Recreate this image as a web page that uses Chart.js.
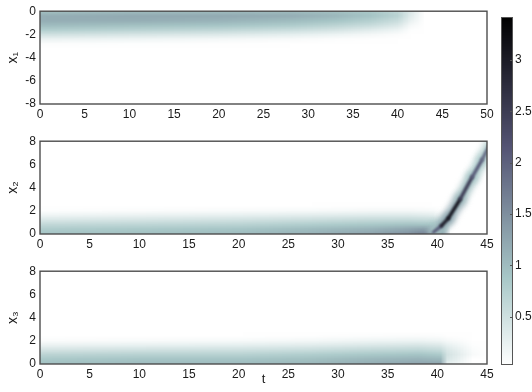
<!DOCTYPE html>
<html>
<head>
<meta charset="utf-8">
<script src="https://cdn.jsdelivr.net/npm/chart.js@4.4.1/dist/chart.umd.min.js"></script>
<style>
  html, body { margin: 0; padding: 0; background: #fff; }
  #wrap { position: relative; width: 532px; height: 392px; overflow: hidden; }
  canvas { position: absolute; left: 0; }
</style>
</head>
<body>
<div id="wrap">
  <canvas id="p1" width="532" height="130" style="top:0px"></canvas>
  <canvas id="p2" width="532" height="130" style="top:130px"></canvas>
  <canvas id="p3" width="532" height="132" style="top:260px"></canvas>
  <canvas id="cb" width="37" height="392" style="left:495px;top:0px"></canvas>
</div>
<script>
// colour scale
const colorMin = 0.03;
const colorMax = 3.42;
const colorTicks = [0.5, 1, 1.5, 2, 2.5, 3];

// panel 1: x1 density over t (rows = x1 levels, columns = t knots)
const x1T = [0, 10, 20, 28, 33, 37, 40, 41.5, 43, 50];
const x1Levels = [0, -0.4, -0.8, -1.2, -1.6, -2.0, -2.4, -2.8, -3.2];
const x1Values = [
  [0.95, 1.00, 1.00, 1.00, 0.95, 0.85, 0.65, 0.35, 0, 0],
  [1.15, 1.20, 1.20, 1.15, 1.05, 0.90, 0.70, 0.30, 0, 0],
  [1.15, 1.15, 1.10, 1.00, 0.90, 0.75, 0.55, 0.22, 0, 0],
  [1.00, 0.95, 0.90, 0.80, 0.68, 0.55, 0.38, 0.12, 0, 0],
  [0.78, 0.72, 0.65, 0.55, 0.45, 0.32, 0.20, 0.05, 0, 0],
  [0.48, 0.42, 0.36, 0.28, 0.20, 0.13, 0.07, 0.01, 0, 0],
  [0.22, 0.18, 0.14, 0.10, 0.06, 0.04, 0.02, 0, 0, 0],
  [0.06, 0.05, 0.04, 0.02, 0.01, 0, 0, 0, 0, 0],
  [0, 0, 0, 0, 0, 0, 0, 0, 0, 0]
];

// panel 2: x2 band + the rising streak
const x2T = [0, 10, 20, 27, 33, 37, 39.5, 40.5, 41.3, 45];
const x2Levels = [0, 0.4, 0.8, 1.2, 1.6, 2.0, 2.4, 2.8];
const x2Values = [
  [0.90, 0.95, 1.00, 1.10, 1.25, 1.45, 1.75, 1.40, 0, 0],
  [0.80, 0.85, 0.90, 1.00, 1.10, 1.25, 1.40, 1.00, 0, 0],
  [0.62, 0.66, 0.70, 0.78, 0.85, 0.92, 0.90, 0.50, 0, 0],
  [0.40, 0.44, 0.48, 0.54, 0.60, 0.62, 0.58, 0.25, 0, 0],
  [0.18, 0.22, 0.26, 0.30, 0.34, 0.35, 0.30, 0.10, 0, 0],
  [0.05, 0.07, 0.09, 0.11, 0.13, 0.13, 0.11, 0.03, 0, 0],
  [0.01, 0.01, 0.02, 0.03, 0.04, 0.04, 0.03, 0, 0, 0],
  [0, 0, 0, 0, 0, 0, 0, 0, 0, 0]
];
const streakT = [39.6, 40.4, 41.1, 42.3, 43.5, 44.5, 45.3];
const streakX = [0.15, 0.7, 1.35, 3.0, 4.9, 6.4, 7.7];
const streakC = [1.6, 2.5, 3.4, 2.7, 2.2, 1.9, 1.8];

// panel 3: x3 band
const x3T = [0, 10, 20, 27, 33, 38, 40.3, 41, 43.5, 45];
const x3Levels = [0, 0.4, 0.8, 1.2, 1.6, 2.0, 2.4, 2.8];
const x3Values = [
  [0.95, 1.00, 1.00, 1.05, 1.15, 1.25, 1.25, 0.25, 0, 0],
  [0.85, 0.90, 0.90, 0.95, 1.05, 1.10, 1.05, 0.40, 0, 0],
  [0.68, 0.72, 0.72, 0.78, 0.85, 0.90, 0.82, 0.45, 0.10, 0],
  [0.45, 0.48, 0.50, 0.55, 0.62, 0.66, 0.58, 0.38, 0.08, 0],
  [0.22, 0.25, 0.28, 0.32, 0.38, 0.42, 0.36, 0.25, 0.05, 0],
  [0.07, 0.09, 0.11, 0.14, 0.18, 0.20, 0.17, 0.12, 0.02, 0],
  [0.01, 0.02, 0.03, 0.04, 0.06, 0.07, 0.06, 0.04, 0, 0],
  [0, 0, 0, 0, 0, 0, 0, 0, 0, 0]
];

const FONT = { family: "'Liberation Sans', Arial, sans-serif", size: 12 };
const INK = '#1a1a1a';

// reversed "bone" colormap
function bone(c) {
  const cl = a => Math.min(1, Math.max(0, a));
  const v = cl(1 - (c - colorMin) / (colorMax - colorMin));
  const r = (7 * v + cl((v - 0.75) / 0.25)) / 8;
  const g = (7 * v + cl((v - 0.375) / 0.375)) / 8;
  const b = (7 * v + cl(v / 0.375)) / 8;
  return [r, g, b].map(k => Math.round(k * 255));
}
const rgb = c => `rgb(${bone(c).join(',')})`;

function makeHeatmap(ts, lv, vals) {
  return {
    id: 'heatmap',
    beforeDatasetsDraw(chart) {
      const { ctx, chartArea: a, scales: { x, y } } = chart;
      const tile = document.createElement('canvas');
      tile.width = 2; tile.height = 2;
      const tctx = tile.getContext('2d');
      const img = tctx.createImageData(2, 2);
      ctx.save();
      ctx.beginPath(); ctx.rect(a.left, a.top, a.width, a.height); ctx.clip();
      ctx.imageSmoothingEnabled = true;
      ctx.imageSmoothingQuality = 'low';
      for (let j = 0; j < lv.length - 1; j++) {
        for (let i = 0; i < ts.length - 1; i++) {
          [vals[j][i], vals[j][i + 1], vals[j + 1][i], vals[j + 1][i + 1]].forEach((c, k) => {
            img.data.set([...bone(c), 255], k * 4);
          });
          tctx.putImageData(img, 0, 0);
          const x0 = x.getPixelForValue(ts[i]), x1 = x.getPixelForValue(ts[i + 1]);
          const y0 = y.getPixelForValue(lv[j]), y1 = y.getPixelForValue(lv[j + 1]);
          const L = Math.round(Math.min(x0, x1)), R = Math.round(Math.max(x0, x1));
          const T = Math.round(Math.min(y0, y1)), B = Math.round(Math.max(y0, y1));
          ctx.save();
          ctx.beginPath(); ctx.rect(L, T, R - L, B - T); ctx.clip();
          const sx = x1 - x0, sy = y1 - y0;
          ctx.setTransform(sx, 0, 0, sy, x0 - 0.5 * sx, y0 - 0.5 * sy);
          ctx.drawImage(tile, 0, 0);
          ctx.restore();
        }
      }
      ctx.restore();
    }
  };
}

const frame = {
  id: 'frame',
  afterDraw(chart) {
    const { ctx, chartArea: a } = chart;
    ctx.save();
    ctx.strokeStyle = '#4d4d4d';
    ctx.lineWidth = 1.4;
    ctx.strokeRect(a.left, a.top, a.width, a.height);
    ctx.restore();
  }
};

const softLine = {
  id: 'softLine',
  beforeDatasetDraw(chart, args) {
    const b = chart.data.datasets[args.index].blur;
    if (b) { chart.ctx.save(); chart.ctx.filter = `blur(${b}px)`; }
  },
  afterDatasetDraw(chart, args) {
    if (chart.data.datasets[args.index].blur) chart.ctx.restore();
  }
};

function panel(id, opts) {
  return new Chart(document.getElementById(id), {
    type: 'scatter',
    data: { datasets: opts.datasets || [] },
    options: {
      responsive: false,
      animation: false,
      devicePixelRatio: 1,
      layout: { padding: { left: 0, right: 45, top: opts.top, bottom: 0 } },
      plugins: { legend: { display: false }, tooltip: { enabled: false } },
      scales: {
        x: {
          type: 'linear', min: 0, max: opts.xMax,
          ticks: { stepSize: 5, padding: 3, autoSkip: false, maxRotation: 0, font: FONT, color: INK },
          grid: { display: false, drawTicks: false },
          border: { display: false },
          title: opts.xTitle ? { display: true, text: opts.xTitle, font: { ...FONT, size: 13 }, color: INK, padding: { top: 0, bottom: 5 } } : { display: false },
          afterFit: s => { s.height = opts.bottomH; }
        },
        y: {
          type: 'linear', min: opts.yMin, max: opts.yMax,
          ticks: { stepSize: 2, padding: 4, font: FONT, color: INK },
          grid: { display: false, drawTicks: false },
          border: { display: false },
          title: { display: true, text: opts.yTitle, font: { ...FONT, size: 14 }, color: INK, padding: { top: 5, bottom: 0 } },
          afterFit: s => { s.width = 40; }
        }
      }
    },
    plugins: [opts.heat, softLine, frame]
  });
}

panel('p1', { xMax: 50, yMin: -8, yMax: 0, yTitle: 'x\u2081', top: 11, bottomH: 26,
  heat: makeHeatmap(x1T, x1Levels, x1Values) });

const streakPts = streakT.map((t, i) => ({ x: t, y: streakX[i] }));
panel('p2', { xMax: 45, yMin: 0, yMax: 8, yTitle: 'x\u2082', top: 10, bottomH: 26,
  heat: makeHeatmap(x2T, x2Levels, x2Values),
  datasets: [
    { data: streakPts, showLine: true, pointRadius: 0, borderWidth: 3.5, blur: 1.1,
      borderCapStyle: 'round', borderJoinStyle: 'round',
      segment: { borderColor: c => rgb((streakC[c.p0DataIndex] + streakC[c.p1DataIndex]) / 2) } },
    { data: streakPts, showLine: true, pointRadius: 0, borderWidth: 11, blur: 3,
      borderCapStyle: 'round', borderJoinStyle: 'round',
      segment: { borderColor: c => rgb(0.4 * (streakC[c.p0DataIndex] + streakC[c.p1DataIndex]) / 2) } }
  ] });

panel('p3', { xMax: 45, yMin: 0, yMax: 8, yTitle: 'x\u2083', xTitle: 't', top: 10, bottomH: 28,
  heat: makeHeatmap(x3T, x3Levels, x3Values) });

// colour bar
const colorbar = {
  id: 'colorbar',
  beforeDatasetsDraw(chart) {
    const { ctx, chartArea: a, scales: { y } } = chart;
    ctx.save();
    for (let py = Math.floor(a.top); py < a.bottom; py++) {
      ctx.fillStyle = rgb(y.getValueForPixel(py + 0.5));
      ctx.fillRect(a.left, py, a.width, 1);
    }
    ctx.strokeStyle = '#555';
    ctx.lineWidth = 1;
    ctx.strokeRect(a.left + 0.5, a.top + 0.5, a.width - 1, a.height - 1);
    // short inward ticks on the right edge
    y.ticks.forEach(t => {
      const py = Math.round(y.getPixelForValue(t.value)) + 0.5;
      ctx.beginPath();
      ctx.moveTo(a.right - 3, py);
      ctx.lineTo(a.right, py);
      ctx.stroke();
    });
    ctx.restore();
  }
};

new Chart(document.getElementById('cb'), {
  type: 'scatter',
  data: { datasets: [] },
  options: {
    responsive: false,
    animation: false,
    devicePixelRatio: 1,
    layout: { padding: { left: 6, right: 0, top: 17, bottom: 27 } },
    plugins: { legend: { display: false }, tooltip: { enabled: false } },
    scales: {
      x: { display: false, min: 0, max: 1 },
      y: {
        position: 'right', min: colorMin, max: colorMax,
        afterBuildTicks: s => { s.ticks = colorTicks.map(v => ({ value: v })); },
        ticks: { padding: 2, font: FONT, color: INK, callback: v => String(v) },
        grid: { display: false, drawTicks: false },
        border: { display: false },
        afterFit: s => { s.width = 19; }
      }
    }
  },
  plugins: [colorbar]
});
</script>
</body>
</html>
